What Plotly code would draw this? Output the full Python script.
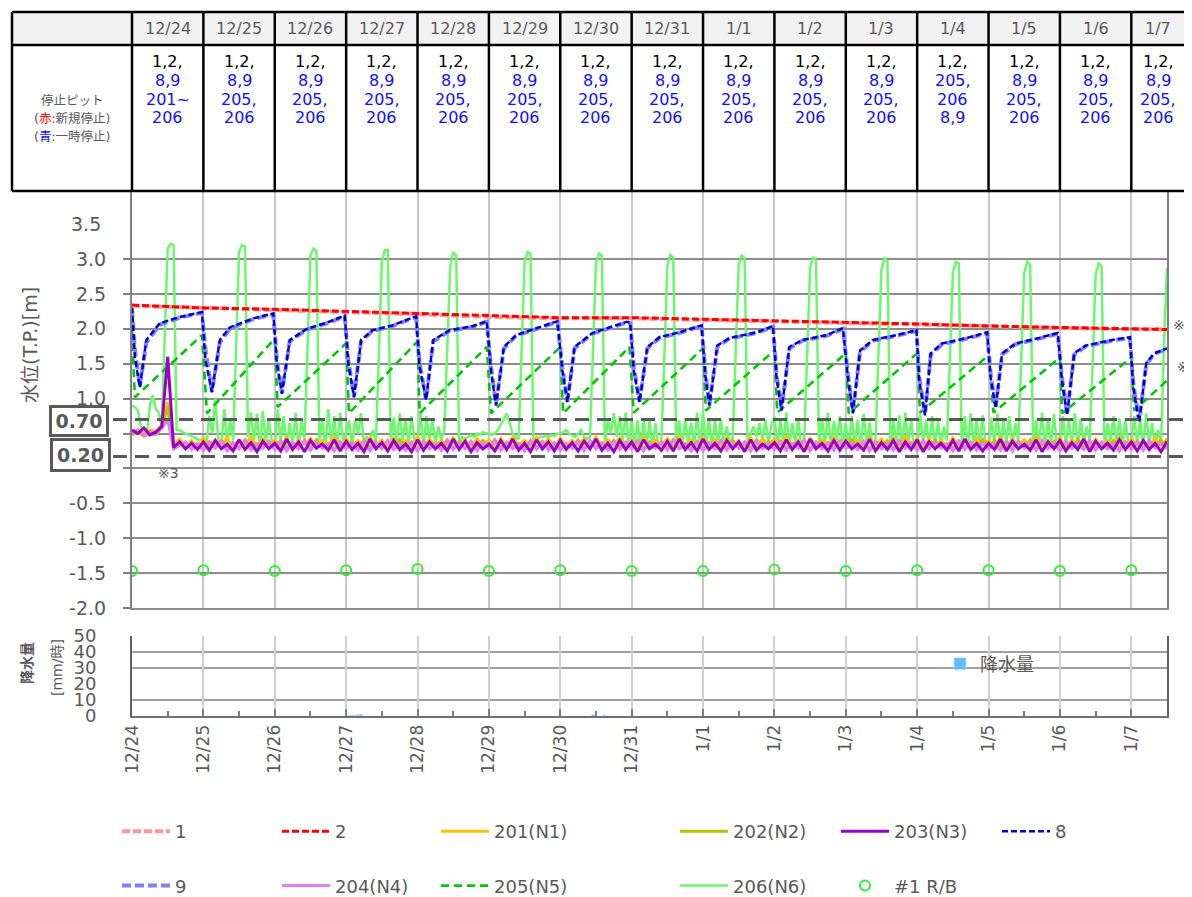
import plotly.graph_objects as go

OFF = 8                         # page body margin of the html page (px)
W, H = 1192 - OFF, 897 - OFF    # figure size
PX_L, PX_R = 132, 1167          # plot area left / right (page px)
MAIN_TOP, MAIN_BOT = 191, 608   # main plot top / bottom (page px)
RAIN_TOP, RAIN_BOT = 636, 716   # rain plot top / bottom (page px)
XMAX = 14.5
GRAY = '#595959'
FONT = 'DejaVu Sans, Noto Sans CJK JP'

# ---------------- data ----------------
dates = ['12/24', '12/25', '12/26', '12/27', '12/28', '12/29', '12/30', '12/31',
         '1/1', '1/2', '1/3', '1/4', '1/5', '1/6', '1/7']
day_ticks = list(range(15))

stop_pits = [['1,2,', '8,9', '201~', '206']] + [['1,2,', '8,9', '205,', '206']] * 10 + \
            [['1,2,', '205,', '206', '8,9']] + [['1,2,', '8,9', '205,', '206']] * 3

# pits 1 / 2 (daily readings)
t_12 = [0, 1, 2, 3, 4, 5, 6, 7, 8, 9, 10, 11, 12, 13, 14, 14.5]
v_pit1 = [2.33, 2.30, 2.27, 2.25, 2.21, 2.17, 2.15, 2.15, 2.13, 2.11, 2.09, 2.06, 2.04, 2.01, 1.99, 1.99]
v_pit2 = [2.34, 2.30, 2.28, 2.25, 2.22, 2.18, 2.16, 2.16, 2.14, 2.12, 2.09, 2.07, 2.04, 2.02, 2.00, 1.99]

# pits 8 / 9
t_89 = [0.00, 0.04, 0.11, 0.20, 0.39, 0.67, 0.98,
        1.03, 1.12, 1.23, 1.37, 1.70, 1.98,
        2.03, 2.10, 2.21, 2.45, 2.73, 2.98,
        3.03, 3.11, 3.21, 3.37, 3.65, 3.98,
        4.03, 4.12, 4.22, 4.45, 4.78, 4.97,
        5.03, 5.10, 5.21, 5.38, 5.70, 5.96,
        6.03, 6.10, 6.20, 6.45, 6.93, 6.98,
        7.03, 7.11, 7.22, 7.39, 7.67, 7.98,
        8.03, 8.09, 8.20, 8.37, 8.75, 8.98,
        9.03, 9.10, 9.21, 9.39, 9.73, 9.96,
        10.03, 10.10, 10.20, 10.38, 10.71, 10.99,
        11.03, 11.11, 11.19, 11.35, 11.70, 11.98,
        12.03, 12.10, 12.19, 12.38, 12.71, 12.97,
        13.03, 13.10, 13.20, 13.36, 13.73, 13.98,
        14.03, 14.11, 14.21, 14.32, 14.50]
v_pit8 = [2.31, 1.60, 1.16, 1.84, 2.08, 2.17, 2.24,
          1.55, 1.09, 1.84, 2.02, 2.15, 2.22,
          1.50, 1.07, 1.84, 2.00, 2.09, 2.19,
          1.50, 1.02, 1.84, 1.98, 2.05, 2.18,
          1.45, 0.98, 1.84, 1.98, 2.04, 2.11,
          1.40, 0.90, 1.74, 1.91, 2.02, 2.11,
          1.40, 0.95, 1.74, 1.94, 2.10, 2.09,
          1.40, 0.95, 1.74, 1.88, 1.95, 2.05,
          1.35, 0.90, 1.76, 1.87, 1.95, 2.04,
          1.30, 0.83, 1.74, 1.84, 1.91, 2.01,
          1.30, 0.79, 1.69, 1.84, 1.91, 1.98,
          1.25, 0.76, 1.65, 1.79, 1.87, 1.95,
          1.30, 0.86, 1.65, 1.79, 1.87, 1.94,
          1.25, 0.76, 1.65, 1.76, 1.84, 1.88,
          1.15, 0.66, 1.51, 1.65, 1.72]
v_pit9 = [2.29, 1.70, 1.18, 1.80, 2.06, 2.16, 2.23,
          1.70, 1.10, 1.80, 2.00, 2.14, 2.21,
          1.55, 1.08, 1.82, 1.99, 2.08, 2.18,
          1.55, 1.03, 1.82, 1.97, 2.04, 2.17,
          1.50, 0.99, 1.82, 1.97, 2.03, 2.10,
          1.45, 0.92, 1.72, 1.90, 2.01, 2.10,
          1.45, 0.96, 1.72, 1.93, 2.09, 2.08,
          1.45, 0.96, 1.72, 1.87, 1.94, 2.04,
          1.40, 0.91, 1.74, 1.86, 1.94, 2.03,
          1.35, 0.85, 1.72, 1.83, 1.90, 2.00,
          1.35, 0.81, 1.67, 1.83, 1.90, 1.97,
          1.30, 0.78, 1.63, 1.78, 1.86, 1.94,
          1.35, 0.88, 1.63, 1.78, 1.86, 1.93,
          1.30, 0.78, 1.63, 1.75, 1.83, 1.87,
          1.20, 0.68, 1.49, 1.64, 1.71]

# pit 205 (N5)
t_205 = [0.00, 0.04, 0.98, 1.05, 2.00, 2.04, 3.00, 3.04, 4.00, 4.03, 4.97, 5.03,
         6.00, 6.04, 6.97, 7.03, 8.00, 8.04, 9.00, 9.04, 10.00, 10.04, 11.00, 11.04,
         12.00, 12.07, 13.00, 13.03, 14.00, 14.04, 14.50]
v_205 = [1.98, 1.02, 1.91, 0.79, 1.86, 0.88, 1.79, 0.79, 1.82, 0.79, 1.74, 0.79,
         1.74, 0.79, 1.74, 0.80, 1.72, 0.83, 1.69, 0.80, 1.65, 0.79, 1.65, 0.80,
         1.62, 0.80, 1.59, 0.79, 1.59, 0.83, 1.26]

# pit 206 (N6) hourly readings, one row per day
v_206_days = [
    [0.90, 0.88, 0.83, 0.60, 0.45, 0.50, 0.90, 1.05, 0.85, 0.80, 0.60, 1.90, 3.15, 3.22, 3.20, 0.55, 0.55, 0.52, 0.50, 0.48, 0.46, 0.45, 0.42, 0.40],
    [0.45, 0.35, 0.75, 0.50, 1.00, 0.40, 0.30, 0.85, 0.35, 0.70, 0.40, 1.80, 3.10, 3.20, 3.18, 0.45, 0.80, 0.38, 0.78, 0.25, 0.82, 0.35, 0.70, 0.40],
    [0.30, 0.85, 0.40, 0.75, 0.30, 0.65, 0.35, 0.80, 0.30, 0.70, 0.40, 1.70, 3.05, 3.15, 3.12, 0.40, 0.70, 0.30, 0.85, 0.35, 0.75, 0.30, 0.80, 0.40],
    [0.50, 0.69, 0.30, 0.69, 0.50, 0.79, 0.36, 0.45, 0.40, 0.55, 0.36, 1.60, 2.95, 3.13, 3.13, 0.36, 0.73, 0.35, 0.79, 0.40, 0.70, 0.35, 0.75, 0.40],
    [0.35, 0.80, 0.30, 0.75, 0.40, 0.70, 0.35, 0.60, 0.40, 0.55, 1.60, 2.90, 3.10, 3.05, 0.30, 0.45, 0.42, 0.45, 0.48, 0.45, 0.50, 0.48, 0.52, 0.50],
    [0.50, 0.48, 0.50, 0.55, 0.62, 0.70, 0.79, 0.65, 0.50, 0.45, 0.42, 1.70, 2.95, 3.10, 3.08, 0.30, 0.40, 0.45, 0.45, 0.47, 0.45, 0.48, 0.46, 0.50],
    [0.50, 0.52, 0.55, 0.50, 0.48, 0.45, 0.50, 0.55, 0.45, 0.42, 0.45, 1.80, 2.95, 3.08, 3.05, 0.35, 0.69, 0.50, 0.79, 0.45, 0.75, 0.40, 0.80, 0.35],
    [0.69, 0.30, 0.69, 0.25, 0.72, 0.30, 0.69, 0.28, 0.65, 0.30, 0.40, 1.60, 2.90, 3.06, 3.02, 0.30, 0.69, 0.28, 0.72, 0.35, 0.66, 0.30, 0.80, 0.32],
    [0.83, 0.30, 0.72, 0.28, 0.68, 0.35, 0.70, 0.30, 0.60, 0.35, 0.45, 1.70, 2.92, 3.06, 3.00, 0.30, 0.50, 0.60, 0.45, 0.65, 0.40, 0.70, 0.35, 0.62],
    [0.75, 0.30, 0.70, 0.35, 0.80, 0.30, 0.65, 0.35, 0.72, 0.30, 0.40, 1.60, 2.88, 3.03, 2.98, 0.30, 0.72, 0.35, 0.80, 0.30, 0.68, 0.40, 0.75, 0.30],
    [0.65, 0.28, 0.75, 0.32, 0.70, 0.30, 0.78, 0.35, 0.66, 0.30, 0.42, 1.65, 2.85, 3.01, 2.97, 0.28, 0.70, 0.32, 0.76, 0.30, 0.80, 0.35, 0.70, 0.30],
    [0.30, 0.79, 0.35, 0.70, 0.30, 0.75, 0.32, 0.68, 0.30, 0.60, 0.40, 1.55, 2.80, 2.96, 2.94, 0.28, 0.75, 0.30, 0.79, 0.35, 0.70, 0.30, 0.76, 0.32],
    [0.30, 0.72, 0.35, 0.79, 0.30, 0.70, 0.35, 0.75, 0.30, 0.65, 0.38, 1.60, 2.80, 2.96, 2.92, 0.30, 0.70, 0.35, 0.80, 0.30, 0.72, 0.36, 0.78, 0.30],
    [0.32, 0.75, 0.30, 0.70, 0.35, 0.79, 0.30, 0.72, 0.35, 0.60, 0.40, 1.50, 2.78, 2.94, 2.90, 0.28, 0.65, 0.40, 0.75, 0.35, 0.72, 0.30, 0.70, 0.35],
    [0.30, 0.75, 0.35, 0.70, 0.30, 0.79, 0.35, 0.65, 0.30, 0.55, 0.35, 1.80, 2.87],
]

# pits 201-204, 2-hourly readings, one row per day
v_201_days = [
    [0.52, 0.56, 0.50, 0.55, 0.53, 0.62, 0.95, 0.33, 0.42, 0.32, 0.40, 0.31],
    [0.43, 0.31, 0.41, 0.33, 0.44, 0.30, 0.40, 0.34, 0.45, 0.31, 0.42, 0.33],
    [0.40, 0.32, 0.44, 0.30, 0.41, 0.34, 0.43, 0.31, 0.40, 0.33, 0.45, 0.30],
    [0.42, 0.33, 0.40, 0.31, 0.44, 0.32, 0.41, 0.30, 0.43, 0.34, 0.40, 0.31],
    [0.45, 0.30, 0.42, 0.33, 0.40, 0.31, 0.44, 0.32, 0.41, 0.30, 0.43, 0.33],
    [0.41, 0.31, 0.43, 0.30, 0.45, 0.33, 0.40, 0.32, 0.44, 0.31, 0.42, 0.30],
    [0.43, 0.32, 0.40, 0.34, 0.42, 0.30, 0.45, 0.31, 0.41, 0.33, 0.44, 0.32],
    [0.40, 0.30, 0.44, 0.32, 0.41, 0.33, 0.43, 0.30, 0.45, 0.31, 0.40, 0.34],
    [0.44, 0.33, 0.41, 0.30, 0.43, 0.32, 0.40, 0.31, 0.44, 0.30, 0.42, 0.33],
    [0.42, 0.31, 0.45, 0.33, 0.40, 0.30, 0.43, 0.32, 0.41, 0.34, 0.44, 0.31],
    [0.41, 0.34, 0.40, 0.31, 0.44, 0.33, 0.42, 0.30, 0.43, 0.31, 0.45, 0.32],
    [0.43, 0.30, 0.42, 0.32, 0.40, 0.31, 0.44, 0.33, 0.41, 0.30, 0.43, 0.34],
    [0.40, 0.32, 0.44, 0.31, 0.42, 0.34, 0.41, 0.30, 0.45, 0.32, 0.40, 0.31],
    [0.44, 0.31, 0.41, 0.33, 0.43, 0.30, 0.42, 0.32, 0.40, 0.33, 0.44, 0.30],
    [0.42, 0.33, 0.40, 0.31, 0.44, 0.32, 0.43],
]
v_202_days = [
    [0.48, 0.52, 0.46, 0.50, 0.48, 0.58, 0.88, 0.30, 0.38, 0.29, 0.37, 0.30],
    [0.29, 0.38, 0.31, 0.40, 0.28, 0.37, 0.30, 0.41, 0.29, 0.36, 0.31, 0.39],
    [0.30, 0.40, 0.28, 0.37, 0.31, 0.39, 0.29, 0.41, 0.30, 0.36, 0.28, 0.38],
    [0.31, 0.37, 0.29, 0.40, 0.30, 0.38, 0.28, 0.39, 0.31, 0.41, 0.29, 0.36],
    [0.28, 0.39, 0.31, 0.36, 0.29, 0.41, 0.30, 0.38, 0.28, 0.37, 0.31, 0.40],
    [0.30, 0.41, 0.29, 0.38, 0.31, 0.36, 0.28, 0.40, 0.30, 0.39, 0.29, 0.37],
    [0.29, 0.36, 0.30, 0.41, 0.28, 0.39, 0.31, 0.37, 0.29, 0.40, 0.30, 0.38],
    [0.31, 0.40, 0.28, 0.38, 0.30, 0.37, 0.29, 0.41, 0.31, 0.36, 0.28, 0.39],
    [0.28, 0.37, 0.31, 0.39, 0.29, 0.40, 0.30, 0.36, 0.28, 0.41, 0.31, 0.38],
    [0.30, 0.39, 0.29, 0.36, 0.31, 0.41, 0.28, 0.38, 0.30, 0.37, 0.29, 0.40],
    [0.29, 0.41, 0.30, 0.37, 0.28, 0.38, 0.31, 0.40, 0.29, 0.39, 0.30, 0.36],
    [0.31, 0.38, 0.28, 0.40, 0.30, 0.36, 0.29, 0.39, 0.31, 0.37, 0.28, 0.41],
    [0.28, 0.40, 0.31, 0.38, 0.29, 0.37, 0.30, 0.41, 0.28, 0.36, 0.31, 0.39],
    [0.30, 0.36, 0.29, 0.41, 0.31, 0.39, 0.28, 0.37, 0.30, 0.40, 0.29, 0.38],
    [0.31, 0.39, 0.28, 0.37, 0.30, 0.40, 0.29],
]
v_203_days = [
    [0.55, 0.50, 0.58, 0.48, 0.52, 0.60, 1.60, 0.30, 0.38, 0.28, 0.36, 0.27],
    [0.38, 0.26, 0.40, 0.28, 0.35, 0.25, 0.41, 0.27, 0.37, 0.24, 0.39, 0.28],
    [0.36, 0.25, 0.42, 0.27, 0.38, 0.24, 0.40, 0.29, 0.35, 0.26, 0.41, 0.25],
    [0.39, 0.27, 0.36, 0.24, 0.42, 0.28, 0.37, 0.25, 0.40, 0.27, 0.35, 0.24],
    [0.41, 0.26, 0.38, 0.28, 0.36, 0.25, 0.42, 0.27, 0.39, 0.24, 0.37, 0.28],
    [0.35, 0.25, 0.40, 0.27, 0.42, 0.26, 0.36, 0.24, 0.41, 0.28, 0.38, 0.25],
    [0.40, 0.27, 0.37, 0.25, 0.39, 0.28, 0.42, 0.26, 0.36, 0.24, 0.40, 0.27],
    [0.38, 0.24, 0.41, 0.28, 0.35, 0.26, 0.39, 0.25, 0.42, 0.27, 0.37, 0.25],
    [0.42, 0.27, 0.36, 0.25, 0.40, 0.28, 0.38, 0.24, 0.41, 0.26, 0.35, 0.28],
    [0.37, 0.25, 0.41, 0.27, 0.38, 0.24, 0.42, 0.28, 0.36, 0.25, 0.40, 0.26],
    [0.39, 0.28, 0.35, 0.26, 0.42, 0.25, 0.37, 0.27, 0.40, 0.24, 0.38, 0.27],
    [0.41, 0.24, 0.38, 0.28, 0.36, 0.26, 0.40, 0.25, 0.42, 0.27, 0.36, 0.25],
    [0.36, 0.27, 0.42, 0.25, 0.39, 0.28, 0.35, 0.26, 0.41, 0.24, 0.38, 0.28],
    [0.40, 0.25, 0.37, 0.27, 0.42, 0.24, 0.39, 0.28, 0.36, 0.26, 0.41, 0.27],
    [0.38, 0.25, 0.40, 0.27, 0.36, 0.24, 0.39],
]
v_204_days = [
    [0.50, 0.55, 0.47, 0.53, 0.49, 0.58, 0.70, 0.28, 0.33, 0.38, 0.27, 0.36],
    [0.26, 0.37, 0.29, 0.39, 0.25, 0.36, 0.28, 0.40, 0.26, 0.35, 0.29, 0.38],
    [0.27, 0.39, 0.25, 0.36, 0.28, 0.40, 0.26, 0.37, 0.29, 0.35, 0.25, 0.38],
    [0.28, 0.36, 0.26, 0.39, 0.25, 0.37, 0.29, 0.40, 0.27, 0.35, 0.26, 0.38],
    [0.25, 0.38, 0.28, 0.35, 0.26, 0.40, 0.27, 0.36, 0.29, 0.39, 0.25, 0.37],
    [0.29, 0.40, 0.26, 0.37, 0.28, 0.35, 0.25, 0.39, 0.27, 0.38, 0.26, 0.36],
    [0.26, 0.35, 0.29, 0.38, 0.25, 0.40, 0.28, 0.36, 0.26, 0.39, 0.27, 0.37],
    [0.28, 0.39, 0.25, 0.36, 0.29, 0.38, 0.26, 0.40, 0.28, 0.35, 0.25, 0.37],
    [0.25, 0.37, 0.28, 0.40, 0.26, 0.36, 0.29, 0.38, 0.25, 0.39, 0.28, 0.35],
    [0.27, 0.38, 0.26, 0.35, 0.29, 0.40, 0.25, 0.37, 0.28, 0.36, 0.26, 0.39],
    [0.29, 0.36, 0.27, 0.39, 0.25, 0.38, 0.28, 0.35, 0.26, 0.40, 0.29, 0.37],
    [0.26, 0.40, 0.28, 0.37, 0.29, 0.35, 0.25, 0.39, 0.27, 0.38, 0.26, 0.36],
    [0.28, 0.35, 0.26, 0.38, 0.25, 0.39, 0.29, 0.37, 0.26, 0.40, 0.28, 0.36],
    [0.25, 0.39, 0.29, 0.36, 0.27, 0.40, 0.26, 0.38, 0.28, 0.35, 0.25, 0.37],
    [0.27, 0.38, 0.26, 0.40, 0.29, 0.36, 0.28],
]

# #1 R/B (daily)
t_rb = list(range(15))
v_rb = [-1.47, -1.46, -1.47, -1.46, -1.44, -1.47, -1.46, -1.47, -1.47, -1.45, -1.47, -1.46, -1.46, -1.47, -1.46]

# rainfall [mm/h]
t_rain = [3.04, 3.08, 3.13, 3.17, 3.21, 6.46, 6.62]
v_rain = [0.5, 0.6, 0.6, 1.0, 1.2, 1.0, 0.6]


def flatten(rows):
    out = []
    for r in rows:
        out.extend(r)
    return out


v_206 = flatten(v_206_days)
t_206 = [i / 24 for i in range(len(v_206))]
v_201, v_202, v_203, v_204 = (flatten(v_201_days), flatten(v_202_days),
                              flatten(v_203_days), flatten(v_204_days))
t_2h = [i / 12 for i in range(len(v_201))]


# ---------------- helpers (page px -> paper) ----------------
def px(x):
    return (x - OFF) / W


def py(y):
    return 1 - (y - OFF) / H


def xd(d):  # data x -> paper x
    return px(PX_L) + d / XMAX * (px(PX_R) - px(PX_L))


fig = go.Figure()


def line(name, x, y, color, width, dash='solid', legend='legend', rank=1):
    fig.add_trace(go.Scatter(
        x=x, y=y, name=name, mode='lines',
        line=dict(color=color, width=width, dash=dash),
        legend=legend, legendrank=rank, legendgroup=name,
        xaxis='x', yaxis='y', hoverinfo='skip'))


line('206(N6)', t_206, v_206, '#6cf86c', 2.5, legend='legend5', rank=2)
line('205(N5)', t_205, v_205, '#00c800', 2.6, '8px,5px', legend='legend4', rank=2)
line('9', t_89, v_pit9, '#8080ff', 4, '9px,4px', legend='legend', rank=2)
line('8', t_89, v_pit8, '#0000cc', 2.5, '6px,3px', legend='legend7', rank=1)
line('1', t_12, v_pit1, '#ff9999', 4, '8px,3px', legend='legend', rank=1)
line('2', t_12, v_pit2, '#ff0000', 3, '7px,3px', legend='legend3', rank=1)
line('201(N1)', t_2h, v_201, '#ffc000', 3, legend='legend4', rank=1)
line('202(N2)', t_2h, v_202, '#bfbf00', 3, legend='legend5', rank=1)
line('204(N4)', t_2h, v_204, '#e080f0', 3, legend='legend3', rank=2)
line('203(N3)', t_2h, v_203, '#9900cc', 3, legend='legend6', rank=1)

fig.add_trace(go.Scatter(
    x=t_rb, y=v_rb, name='#1 R/B', mode='markers',
    marker=dict(symbol='circle-open', size=10, color='#33ee33', line=dict(width=2, color='#33ee33')),
    legend='legend6', legendrank=2, legendgroup='rb', xaxis='x', yaxis='y', hoverinfo='skip'))

fig.add_trace(go.Bar(
    x=t_rain, y=v_rain, width=1 / 24, name='降水量', marker_color='#5bc0fa',
    legend='legend2', xaxis='x2', yaxis='y2', hoverinfo='skip'))

# ---------------- axes ----------------
ytick_vals = [-2.0, -1.5, -1.0, -0.5, 0.0, 0.5, 1.0, 1.5, 2.0, 2.5, 3.0]
ytick_text = ['-2.0', '-1.5', '-1.0', '-0.5', '', '', '1.0', '1.5', '2.0', '2.5', '3.0']
fig.update_layout(
    xaxis=dict(domain=[px(PX_L), px(PX_R)], range=[0, XMAX], anchor='y',
               tickvals=day_ticks, showticklabels=False, ticks='',
               showgrid=True, gridcolor='#c8c8c8', gridwidth=1.5, zeroline=False,
               showline=True, linecolor='#8c8c8c', linewidth=1.5),
    yaxis=dict(domain=[py(MAIN_BOT), py(MAIN_TOP)], range=[-2.0, 3.975], anchor='x',
               tickvals=ytick_vals, ticktext=ytick_text,
               ticks='outside', ticklen=7, tickcolor='#808080', tickwidth=1.5,
               ticklabelstandoff=13,
               tickfont=dict(size=19, color=GRAY, family=FONT),
               showgrid=True, gridcolor='#8c8c8c', gridwidth=1.5, zeroline=False,
               showline=True, linecolor='#808080', linewidth=2, mirror=True),
    xaxis2=dict(domain=[px(PX_L), px(PX_R)], range=[0, XMAX], anchor='y2',
                tickvals=day_ticks, ticktext=dates, tickangle=-90,
                ticks='inside', ticklen=7, tickcolor='#808080', tickwidth=1.5,
                minor=dict(tick0=0, dtick=0.5, ticks='inside', ticklen=5,
                           tickcolor='#808080', tickwidth=1.5, showgrid=False),
                tickfont=dict(size=17, color=GRAY, family=FONT),
                showgrid=True, gridcolor='#d0d0d0', gridwidth=1.5, zeroline=False,
                showline=True, linecolor='#707070', linewidth=2),
    yaxis2=dict(domain=[py(RAIN_BOT), py(RAIN_TOP)], range=[0, 50], anchor='x2',
                tickvals=[0, 10, 20, 30, 40, 50], ticks='', ticklabelstandoff=30,
                tickfont=dict(size=18, color=GRAY, family=FONT),
                showgrid=False, zeroline=False,
                showline=True, linecolor='#606060', linewidth=2, mirror=True),
)

shapes = []
annotations = []

# rain grid lines
for g in [10, 30, 40]:
    shapes.append(dict(type='line', xref='x2 domain', yref='y2', x0=0, x1=1, y0=g, y1=g,
                       line=dict(color='#808080', width=1.5), layer='below'))

# threshold lines
for val in [0.70, 0.17]:
    shapes.append(dict(type='line', xref='paper', yref='y', x0=px(113), x1=1.0, y0=val, y1=val,
                       line=dict(color=GRAY, width=3, dash='14px,8px')))

# ---------------- table ----------------
TBL_L, TBL_T, TBL_HB, TBL_B = 12, 12, 45, 191
shapes.append(dict(type='rect', xref='paper', yref='paper', x0=px(TBL_L), x1=1.0,
                   y0=py(TBL_HB), y1=py(TBL_T), fillcolor='#f2f2f2', line=dict(width=0)))
for yy in [TBL_T, TBL_HB, TBL_B]:
    shapes.append(dict(type='line', xref='paper', yref='paper', x0=px(TBL_L), x1=1.0,
                       y0=py(yy), y1=py(yy), line=dict(color='black', width=2.5)))
shapes.append(dict(type='line', xref='paper', yref='paper', x0=px(TBL_L), x1=px(TBL_L),
                   y0=py(TBL_B), y1=py(TBL_T), line=dict(color='black', width=2.5)))
for k in range(15):
    shapes.append(dict(type='line', xref='paper', yref='paper', x0=xd(k), x1=xd(k),
                       y0=py(TBL_B), y1=py(TBL_T), line=dict(color='black', width=2.5)))

col_centers = [xd(k + 0.5) for k in range(14)] + [px(1158)]
for k, d in enumerate(dates):
    annotations.append(dict(xref='paper', yref='paper', x=col_centers[k], y=py(29), text=d,
                            xanchor='center', yanchor='middle',
                            showarrow=False, font=dict(size=16, color=GRAY, family=FONT)))
    for j, txt in enumerate(stop_pits[k]):
        annotations.append(dict(xref='paper', yref='paper', x=col_centers[k], y=py(62 + j * 18.5),
                                text=txt, showarrow=False, xanchor='center', yanchor='middle',
                                font=dict(size=16, color='black' if j == 0 else '#1010ff', family=FONT)))

left_lbl = ['停止ピット',
            '(<span style="color:#ff0000">赤</span>:新規停止)',
            '(<span style="color:#1010ff">青</span>:一時停止)']
for j, txt in enumerate(left_lbl):
    annotations.append(dict(xref='paper', yref='paper', x=px(72), y=py(101 + j * 17.5), text=txt,
                            xanchor='center', yanchor='middle',
                            showarrow=False, font=dict(size=12.5, color=GRAY, family=FONT)))


# ---------------- other text ----------------
def note(x, y, text, size, xanchor='center', yref='paper', **kw):
    annotations.append(dict(xref='paper', yref=yref, x=px(x), y=(py(y) if yref == 'paper' else y),
                            text=text, xanchor=xanchor, yanchor='middle', showarrow=False,
                            font=dict(size=size, color=GRAY, family=FONT), **kw))


note(30, 345, '水位(T.P.)[m]', 19, textangle=-90)
note(103, 3.5, '3.5', 19, xanchor='right', yref='y')
note(79, 421, '<b>0.70</b>', 19, width=54, height=26, borderwidth=3, borderpad=0,
     bordercolor=GRAY, bgcolor='white')
note(80.5, 455, '<b>0.20</b>', 19, width=55, height=28, borderwidth=3, borderpad=0,
     bordercolor=GRAY, bgcolor='white')
note(168, 473, '※3', 14)
note(1171, 325, '※1', 14, xanchor='left')
note(1175, 367, '※2', 14, xanchor='left')
note(27, 663, '<b>降水量</b>', 14, textangle=-90)
note(57, 668, '[mm/時]', 14, textangle=-90)

# ---------------- legends ----------------
LEG_FONT = dict(size=18, color=GRAY, family=FONT)
col_x = [122, 282, 441, 680, 841, 1002]
leg_names = ['legend', 'legend3', 'legend4', 'legend5', 'legend6', 'legend7']
legends = {}
for name, cx in zip(leg_names, col_x):
    legends[name] = dict(x=px(cx - 5), y=py(813), xanchor='left', yanchor='top',
                         orientation='v', traceorder='grouped', tracegroupgap=28,
                         itemwidth=48, font=LEG_FONT, bgcolor='rgba(0,0,0,0)', borderwidth=0,
                         itemclick=False, itemdoubleclick=False)
legends['legend2'] = dict(x=px(940), y=py(664), xanchor='left', yanchor='middle',
                          font=LEG_FONT, bgcolor='rgba(0,0,0,0)', borderwidth=0)

fig.update_layout(
    width=W, height=H, margin=dict(l=0, r=0, t=0, b=0, autoexpand=False),
    paper_bgcolor='white', plot_bgcolor='white',
    font=dict(family=FONT, color=GRAY),
    showlegend=True, shapes=shapes, annotations=annotations,
    **legends,
)

fig.write_html('out.html')
